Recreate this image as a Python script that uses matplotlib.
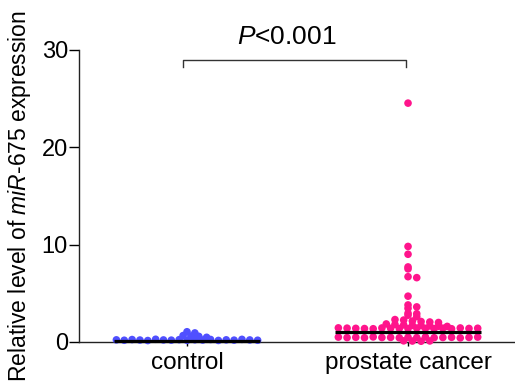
import numpy as np
import matplotlib
matplotlib.use('Agg')
import matplotlib.pyplot as plt

plt.rcParams['font.family'] = ['Liberation Sans', 'DejaVu Sans']
plt.rcParams['mathtext.fontset'] = 'custom'
plt.rcParams['mathtext.rm'] = 'Liberation Sans'
plt.rcParams['mathtext.it'] = 'Liberation Sans:italic'

# data
groups = ['control', 'prostate cancer']
control = [1.05, 0.93, 0.66, 0.60, 0.58, 0.48,
           0.22, 0.18, 0.25, 0.20, 0.15, 0.28, 0.21, 0.19, 0.24, 0.17,
           0.23, 0.20, 0.26, 0.16, 0.22, 0.19, 0.27, 0.21, 0.18]
cancer = [24.5, 9.8, 9.0, 7.7, 7.5, 6.7, 6.6, 4.7, 3.8, 3.6, 3.45,
          2.95, 2.9, 2.75, 2.6, 2.3, 2.25, 2.15, 2.1, 2.05, 2.0,
          1.85, 1.8, 1.75, 1.7, 1.68, 1.65, 1.62, 1.6,
          1.45, 1.42, 1.40, 1.38, 1.36, 1.44, 1.41, 1.39, 1.37, 1.43,
          1.40, 1.38, 1.42, 1.36, 1.44, 1.39, 1.41,
          0.50, 0.45, 0.48, 0.44, 0.52, 0.46, 0.47, 0.43, 0.49, 0.45,
          0.51, 0.44, 0.46, 0.48, 0.42, 0.47, 0.50,
          0.12, 0.10, 0.08, 0.11]
medians = [0.15, 1.03]
colors = ['#5050FF', '#FF148C']
p_text = '$\\mathit{P}$<0.001'


def scatter_x(vals, center, bin_h, step):
    # graphpad-like: bin by value, spread each bin sideways around center
    vals = np.asarray(vals)
    xs = np.zeros(len(vals))
    bins = np.floor(vals / bin_h).astype(int)
    order = [0]
    for k in range(1, 40):
        order += [k, -k]
    for b in np.unique(bins):
        idx = np.where(bins == b)[0]
        n = len(idx)
        offs = sorted(order[:n])
        if n % 2 == 0 and n > 2:
            offs = [o + 0.5 for o in offs]
        for i, o in zip(idx, offs):
            xs[i] = center + o * step
    return xs


fig = plt.figure(figsize=(5.15, 3.87), dpi=100)
ax = fig.add_axes([79 / 515, (387 - 342) / 387, 436 / 515, 292.5 / 387])

steps = [0.0355, 0.0394]
for i, vals in enumerate([control, cancer]):
    xs = scatter_x(vals, i, 0.4, steps[i])
    ax.scatter(xs, vals, s=30, color=colors[i], edgecolors='none',
               zorder=3, clip_on=False)
    ax.plot([i - 0.33, i + 0.33], [medians[i], medians[i]], color='black',
            lw=2.3, zorder=4, solid_capstyle='butt', clip_on=False)

# significance bracket
ax.plot([-0.02, -0.02, 0.99, 0.99], [28.2, 28.9, 28.9, 28.2], color='#333333',
        lw=1.0, clip_on=False)
ax.text(0.45, 30.6, p_text, ha='center', va='baseline', fontsize=19,
        clip_on=False)

ax.set_xlim(-0.4887, 1.484)
ax.set_ylim(0, 30)
ax.set_yticks([0, 10, 20, 30])
ax.set_xticks([0, 1])
ax.set_xticklabels(groups, fontsize=17.5)
ax.tick_params(axis='y', labelsize=17, length=7, width=1.0, pad=1)
ax.tick_params(axis='x', length=3, width=1.0, pad=4)
ax.set_ylabel('Relative level of $\\mathit{miR}$-$\\mathit{675}$ expression',
              fontsize=16.5, labelpad=6)
ax.spines['top'].set_visible(False)
ax.spines['right'].set_visible(False)
for s in ['left', 'bottom']:
    ax.spines[s].set_linewidth(1.0)
    ax.spines[s].set_color('#222222')

fig.savefig('out.png', dpi=100)
